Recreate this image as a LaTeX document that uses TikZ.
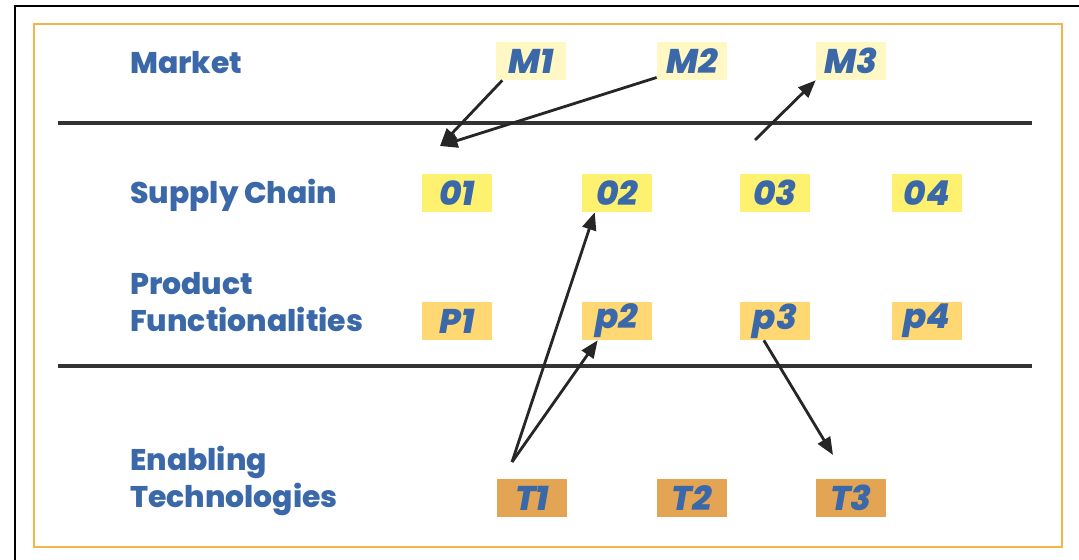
\documentclass[tikz,border=0pt]{standalone}
\usepackage{fontspec}
\setmainfont{Poppins}[BoldFont={Poppins ExtraBold}, BoldItalicFont={Poppins ExtraBold Italic}]
\usetikzlibrary{arrows.meta}

\definecolor{txtblue}{HTML}{3A68A8}
\definecolor{mfill}{HTML}{FFF7C4}
\definecolor{ofill}{HTML}{FFF170}
\definecolor{pfill}{HTML}{FFD873}
\definecolor{tfill}{HTML}{E3A553}
\definecolor{frameorange}{HTML}{F6B44A}

\begin{document}
\begin{tikzpicture}[x=0.02cm, y=-0.02cm,
    layer/.style={anchor=west, align=left, text=txtblue, font=\fontsize{17}{21}\selectfont\bfseries},
    item/.style={minimum width=1.4cm, minimum height=0.76cm, inner sep=0pt, text=txtblue, font=\fontsize{19.5}{21}\selectfont\bfseries\itshape},
    arr/.style={line width=1.6pt, black!85, -{Triangle[length=10pt, width=8pt]}},
    rule/.style={line width=2.3pt, black!80}]
    \useasboundingbox (0,0) rectangle (1079,560);
    % frames
    \draw[line width=1.6pt] (15,560) -- (15,6) -- (1079,6);
    \draw[frameorange, line width=1.2pt] (34,24) rectangle (1062,547);
    \draw[rule] (58,123) -- (1032,123);
    \draw[rule] (58,366) -- (1032,366);
    % layer names
    \node[layer] (market) at (124,63) {Market};
    \node[layer] (supply) at (124,195) {Supply Chain};
    \node[layer] (product) at (124,302) {Product\\Functionalities};
    \node[layer] (enabling) at (124,481) {Enabling\\Technologies};
    % items
    \node[item, fill=mfill] (m1) at (531,61) {M1};
    \node[item, fill=mfill] (m2) at (692,61) {M2};
    \node[item, fill=mfill] (m3) at (851,61) {M3};
    \node[item, fill=ofill] (o1) at (457,193) {01};
    \node[item, fill=ofill] (o2) at (617,193) {02};
    \node[item, fill=ofill] (o3) at (775,193) {03};
    \node[item, fill=ofill] (o4) at (927,193) {04};
    \node[item, fill=pfill] (p1) at (457,321) {P1};
    \node[item, fill=pfill] (p2) at (617,321) {p2};
    \node[item, fill=pfill] (p3) at (775,321) {p3};
    \node[item, fill=pfill] (p4) at (927,321) {p4};
    \node[item, fill=tfill] (t1) at (532,498) {T1};
    \node[item, fill=tfill] (t2) at (692,498) {T2};
    \node[item, fill=tfill] (t3) at (851,498) {T3};
    % loose ends
    \coordinate (otip) at (440,146);
    \coordinate (osrc) at (755,140);
    \coordinate (tsrc) at (512,462);
    \coordinate (ttip) at (833,455);
    % links
    \draw[arr] (m1.214) -- (otip);
    \draw[arr] (m2.205) -- (otip);
    \draw[arr] (osrc) -- (m3.south west);
    \draw[arr] (tsrc) -- (o2.221);
    \draw[arr] (tsrc) -- (p2.225);
    \draw[arr] (p3.240) -- (ttip);
\end{tikzpicture}
\end{document}
